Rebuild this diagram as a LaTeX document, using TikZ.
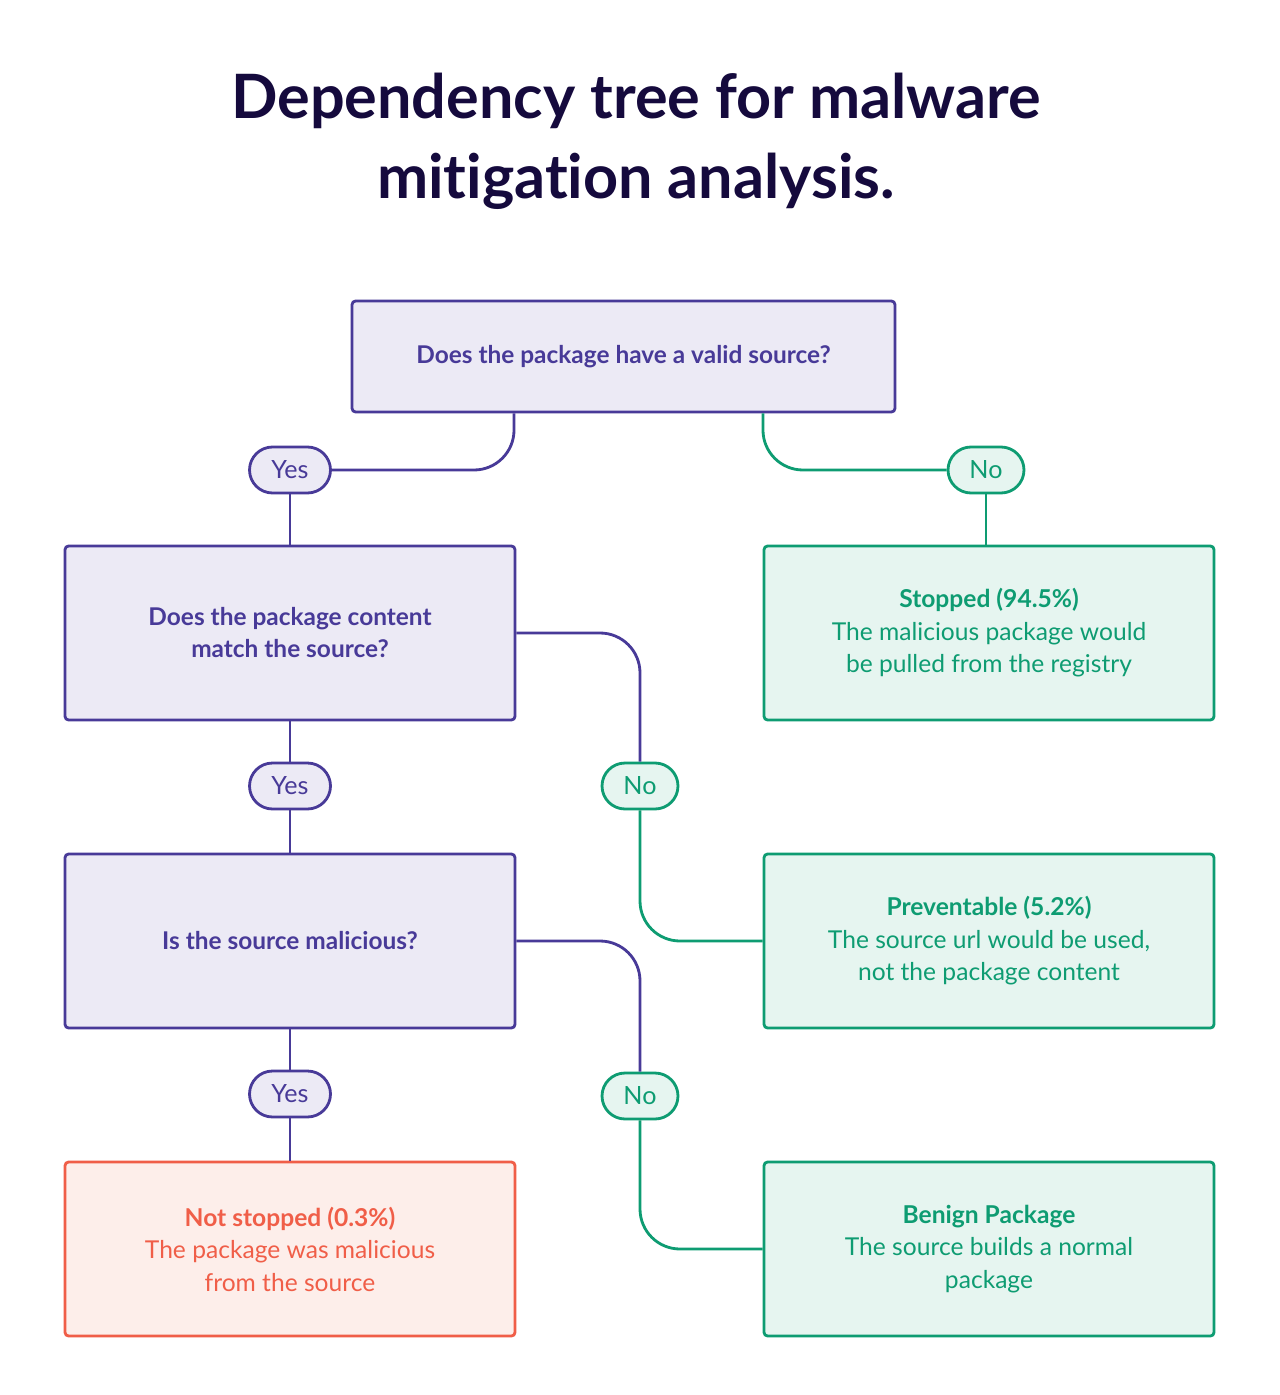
\documentclass[tikz,border=0pt]{standalone}
\usepackage{fontspec}
\setmainfont{Lato}[Ligatures=NoCommon]
\usetikzlibrary{positioning}
\definecolor{dtnavy}{RGB}{21,10,61}
\definecolor{dtpurple}{RGB}{72,58,152}
\definecolor{dtlavender}{RGB}{236,234,245}
\definecolor{dtgreen}{RGB}{14,156,114}
\definecolor{dtmint}{RGB}{230,245,240}
\definecolor{dtred}{RGB}{240,94,72}
\definecolor{dtpeach}{RGB}{253,238,234}

\tikzset{
  wire/.style={line width=1.6pt, rounded corners=0.8cm},
  question/.style={draw=dtpurple, fill=dtlavender, text=dtpurple, line width=1.6pt,
    rounded corners=2pt, align=center, minimum width=9cm, minimum height=3.48cm,
    font=\bfseries\fontsize{13.9}{18.2}\selectfont},
  outcome/.style={draw=dtgreen, fill=dtmint, text=dtgreen, line width=1.6pt,
    rounded corners=2pt, align=center, minimum width=9cm, minimum height=3.48cm,
    font=\fontsize{14}{18.5}\selectfont},
  yespill/.style={draw=dtpurple, fill=dtlavender, text=dtpurple, line width=1.6pt,
    rounded corners=0.46cm, minimum width=1.62cm, minimum height=0.92cm, inner sep=0pt,
    font=\fontsize{14.3}{17}\selectfont},
  nopill/.style={yespill, draw=dtgreen, fill=dtmint, text=dtgreen, minimum width=1.52cm}
}

\begin{document}
\begin{tikzpicture}[x=0.02cm, y=-0.02cm]
\fill[white] (0,0) rectangle (1280,1395);
% Title
\node[text=dtnavy, align=center, font=\bfseries\fontsize{34.8}{45.5}\selectfont] (title) at (636,141)
  {Dependency tree for malware\\mitigation analysis.};
% Questions
\node[question, minimum width=10.86cm, minimum height=2.22cm] (q1) at (623.5,356.5)
  {Does the package have a valid source?};
\node[question] (q2) at (290,633) {Does the package content\\match the source?};
\node[question] (q3) at (290,941) {Is the source malicious?};
% Outcomes
\node[outcome] (stopped) at (989,633)
  {\textbf{Stopped (94.5\%)}\\The malicious package would\\be pulled from the registry};
\node[outcome] (preventable) at (989,941)
  {\textbf{Preventable (5.2\%)}\\The source url would be used,\\not the package content};
\node[outcome] (benign) at (989,1249)
  {\textbf{Benign Package}\\The source builds a normal\\package};
\node[outcome, draw=dtred, fill=dtpeach, text=dtred] (notstopped) at (290,1249)
  {\textbf{Not stopped (0.3\%)}\\The package was malicious\\from the source};
% Answers
\node[yespill] (yes1) at (290,470) {Yes};
\node[yespill] (yes2) at (290,786) {Yes};
\node[yespill] (yes3) at (290,1094) {Yes};
\node[nopill] (no1) at (986,470) {No};
\node[nopill] (no2) at (640,786) {No};
\node[nopill] (no3) at (640,1096) {No};
% Connectors
\draw[wire, dtpurple] ([xshift=-2.19cm]q1.south) |- (yes1.east);
\draw[wire, dtpurple] (yes1.south) -- (q2.north);
\draw[wire, dtgreen] ([xshift=2.79cm]q1.south) |- (no1.west);
\draw[wire, dtgreen] (no1.south) -- (no1.south |- stopped.north);
\draw[wire, dtpurple] (q2.south) -- (yes2.north);
\draw[wire, dtpurple] (yes2.south) -- (q3.north);
\draw[wire, dtpurple] (q2.east) -| (no2.north);
\draw[wire, dtgreen] (no2.south) |- (preventable.west);
\draw[wire, dtpurple] (q3.south) -- (yes3.north);
\draw[wire, dtpurple] (yes3.south) -- (notstopped.north);
\draw[wire, dtpurple] (q3.east) -| (no3.north);
\draw[wire, dtgreen] (no3.south) |- (benign.west);
\end{tikzpicture}
\end{document}
